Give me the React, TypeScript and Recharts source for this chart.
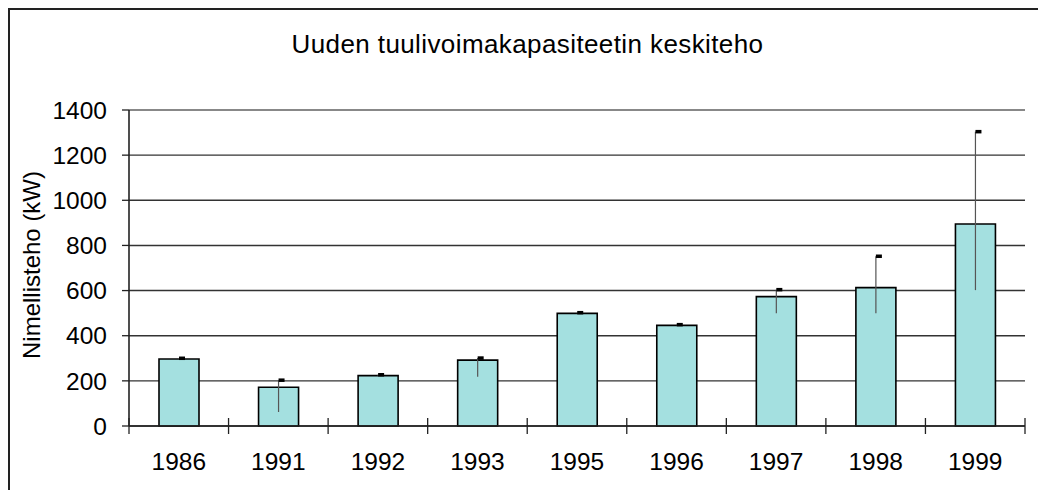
import { BarChart, Bar, XAxis, YAxis, CartesianGrid, ReferenceLine } from "recharts";

const years = ["1986", "1991", "1992", "1993", "1995", "1996", "1997", "1998", "1999"];
const avgPower = [297, 172, 223, 292, 499, 446, 573, 613, 895];
const errLow = [297, 62, 223, 218, 499, 446, 500, 500, 602];
const errHigh = [300, 203, 227, 301, 502, 449, 604, 752, 1304];
const yTicks = [0, 200, 400, 600, 800, 1000, 1200, 1400];

const data = years.map((year, i) => ({
  year,
  power: avgPower[i],
  err: [errLow[i], errHigh[i]],
}));

const FONT = "Arial, 'Liberation Sans', sans-serif";
const TICK_FS = 24.5;

// vertical whisker plus a small black cap, Excel style
function ErrorShape(props: any) {
  const { x, y, width, height } = props;
  if (x == null || y == null) return null;
  const cx = x + width / 2;
  const h = Math.abs(height || 0);
  const top = height < 0 ? y + height : y;
  return (
    <g>
      {h > 0 && <line x1={cx} x2={cx} y1={top} y2={top + h} stroke="#555" strokeWidth={1.2} />}
      <rect x={cx} y={top - 1.75} width={6} height={3.5} fill="#000" />
    </g>
  );
}

function YearTick(props: any) {
  const { x, y, payload, index, visibleTicksCount } = props;
  const half = payload.offset ?? 0;
  const last = index === visibleTicksCount - 1;
  return (
    <g>
      <line x1={x - half} x2={x - half} y1={y - 8} y2={y + 8} stroke="#222" strokeWidth={1.3} />
      {last && <line x1={x + half} x2={x + half} y1={y - 8} y2={y + 8} stroke="#222" strokeWidth={1.3} />}
      <text x={x} y={y + 44} textAnchor="middle" fontSize={TICK_FS} fontFamily={FONT} fill="#000">
        {payload.value}
      </text>
    </g>
  );
}

function YLabel(props: any) {
  const vb = props.viewBox || { x: 0, y: 100, width: 119, height: 316 };
  const lx = vb.x + 21;
  const ly = vb.y + vb.height / 2 - 3;
  return (
    <text
      x={lx}
      y={ly}
      transform={`rotate(-90, ${lx}, ${ly})`}
      textAnchor="middle"
      dominantBaseline="central"
      fontSize={24}
      fontFamily={FONT}
      fill="#000"
    >
      Nimellisteho (kW)
    </text>
  );
}

export default function App() {
  return (
    <>
      <style>{"body{margin:0;overflow:hidden}"}</style>
      <div
        style={{
          position: "relative",
          margin: "8px 0 0 8px",
          width: 1030,
          height: 482,
          borderTop: "2px solid #222",
          borderLeft: "2px solid #222",
          boxSizing: "border-box",
          background: "#fff",
        }}
      >
        <div
          style={{
            position: "absolute",
            top: 21,
            left: 0,
            width: 1035,
            textAlign: "center",
            fontFamily: FONT,
            fontSize: 26,
            letterSpacing: 0.4,
            lineHeight: "26px",
            color: "#000",
          }}
        >
          Uuden tuulivoimakapasiteetin keskiteho
        </div>
        <BarChart
          width={1028}
          height={480}
          data={data}
          margin={{ top: 100, right: 13, left: 0, bottom: 0 }}
          barGap={-40}
        >
          <CartesianGrid horizontal vertical={false} stroke="#333" strokeWidth={1.4} />
          <XAxis
            dataKey="year"
            height={64}
            tick={<YearTick />}
            tickLine={false}
            tickSize={0}
            tickMargin={0}
            axisLine={{ stroke: "#222", strokeWidth: 1.6 }}
            interval={0}
          />
          <YAxis
            width={119}
            domain={[0, 1400]}
            ticks={yTicks}
            tickSize={7}
            tickMargin={15}
            tick={{ fontSize: TICK_FS, fontFamily: FONT, fill: "#000" }}
            tickLine={{ stroke: "#222", strokeWidth: 1.3 }}
            axisLine={{ stroke: "#222", strokeWidth: 1.6 }}
            label={<YLabel />}
          />
          <YAxis
            yAxisId="frame"
            orientation="right"
            width={0}
            domain={[0, 1400]}
            tick={false}
            tickLine={false}
            axisLine={{ stroke: "#888", strokeWidth: 2 }}
          />
          <ReferenceLine y={1400} stroke="#888" strokeWidth={2} />
          <Bar
            dataKey="power"
            barSize={40}
            fill="#a4e0e0"
            stroke="#000"
            strokeWidth={1.6}
            isAnimationActive={false}
          />
          <Bar dataKey="err" barSize={40} shape={<ErrorShape />} isAnimationActive={false} />
        </BarChart>
      </div>
    </>
  );
}
